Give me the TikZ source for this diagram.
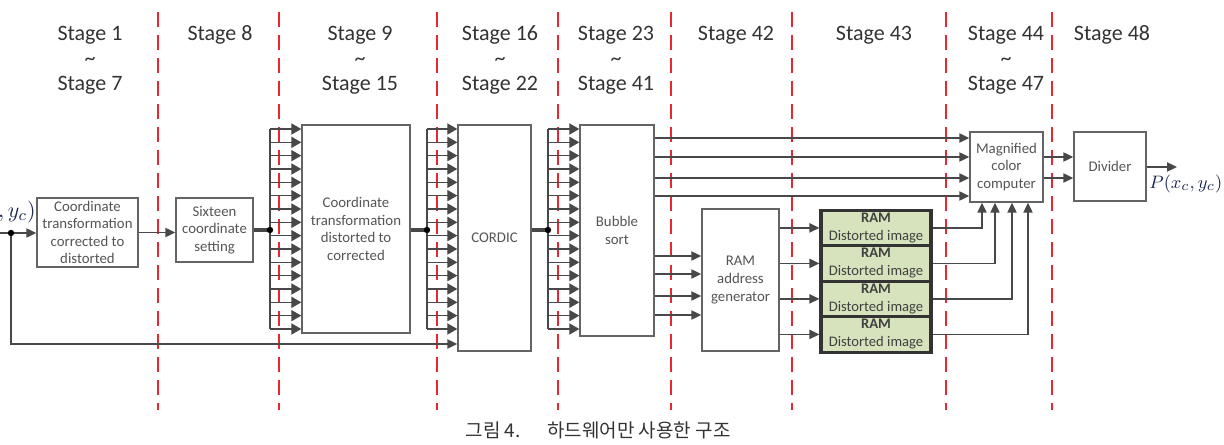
\documentclass[tikz,border=0pt]{standalone}
\usepackage{fontspec}
\setmainfont{Carlito}
\newfontfamily\krfont{Noto Sans CJK KR}
\usepackage{tikz}
\usetikzlibrary{arrows.meta,positioning,calc}
\definecolor{LineGray}{RGB}{72,72,72}
\definecolor{BoxGray}{RGB}{100,100,100}
\definecolor{TextGray}{RGB}{85,85,85}
\definecolor{StageRed}{RGB}{232,40,48}
\definecolor{RamGreen}{RGB}{214,227,188}
\definecolor{MathBlue}{RGB}{30,40,80}
\tikzset{
  blk/.style={draw=BoxGray, line width=0.7pt, fill=white, text=TextGray, align=center,
    inner sep=1.5pt, font=\fontsize{7.4}{8.8}\selectfont},
  ramblk/.style={draw=black!80, line width=1.6pt, fill=RamGreen, text=black!75, align=center,
    inner sep=0.5pt, minimum width=55pt, minimum height=17.75pt, font=\fontsize{7.3}{9}\selectfont},
  conn/.style={draw=LineGray, line width=0.75pt, -{Triangle[length=5pt,width=4.6pt]}},
  bus/.style={draw=LineGray, line width=0.6pt, -{Triangle[length=5pt,width=5.6pt]}},
  fanline/.style={draw=LineGray, line width=0.6pt},
  thickbus/.style={draw=LineGray, line width=2pt},
  stagebar/.style={draw=StageRed, line width=1pt, dash pattern=on 7.5pt off 4pt},
  stagelbl/.style={text=black!80, align=center, font=\fontsize{11}{12.5}\selectfont},
  dotmark/.style={fill=black, circle, inner sep=0pt, minimum size=3.2pt}
}
\begin{document}
\begin{tikzpicture}[x=0.5pt, y=-0.5pt]
  \useasboundingbox (0,0) rectangle (1224,444);

  % stage borders
  \foreach \xx in {158,279,437,558,671,792,946,1052}
    \draw[stagebar] (\xx,12) -- (\xx,410);

  % stage labels
  \node[stagelbl] (st1)  at (90,60)   {Stage 1\\\textasciitilde\\Stage 7};
  \node[stagelbl] (st8)  at (220,35)  {Stage 8};
  \node[stagelbl] (st9)  at (360,60)  {Stage 9\\\textasciitilde\\Stage 15};
  \node[stagelbl] (st16) at (500,60)  {Stage 16\\\textasciitilde\\Stage 22};
  \node[stagelbl] (st23) at (616,60)  {Stage 23\\\textasciitilde\\Stage 41};
  \node[stagelbl] (st42) at (736,35)  {Stage 42};
  \node[stagelbl] (st43) at (874,35)  {Stage 43};
  \node[stagelbl] (st44) at (1006,60) {Stage 44\\\textasciitilde\\Stage 47};
  \node[stagelbl] (st48) at (1112,35) {Stage 48};

  % blocks
  \node[blk, minimum width=50.5pt, minimum height=34.5pt] (box1) at (87.5,232.5)
    {Coordinate\\transformation\\corrected to\\distorted};
  \node[blk, minimum width=38.5pt, minimum height=32pt] (box2) at (214.5,230)
    {Sixteen\\coordinate\\setting};
  \node[blk, minimum width=54pt, minimum height=104pt] (box3) at (356,229)
    {Coordinate\\transformation\\distorted to\\corrected};
  \node[blk, minimum width=36.5pt, minimum height=113pt] (cordic) at (494.5,238) {CORDIC};
  \node[blk, minimum width=37pt, minimum height=105.5pt] (bub) at (617,230.5) {Bubble\\sort};
  \node[blk, minimum width=38.5pt, minimum height=71pt] (addr) at (740.5,280)
    {RAM\\address\\generator};
  \node[ramblk] (ram1) at (876,227.9) {\textbf{RAM}\\Distorted image};
  \node[ramblk] (ram2) at (876,263.4) {\textbf{RAM}\\Distorted image};
  \node[ramblk] (ram3) at (876,298.9) {\textbf{RAM}\\Distorted image};
  \node[ramblk] (ram4) at (876,334.4) {\textbf{RAM}\\Distorted image};
  \node[blk, minimum width=36.5pt, minimum height=35pt] (mag) at (1006.5,167)
    {Magnified\\color\\computer};
  \node[blk, minimum width=36pt, minimum height=34.5pt] (div) at (1110,166.5) {Divider};

  % input and feedback
  \coordinate (src) at (-10,233);
  \coordinate (in) at (11,233);
  \node[text=MathBlue, anchor=east, inner sep=0pt, font=\fontsize{11}{12}\selectfont] (inlbl) at (36,212) {$(x_c, y_c)$};
  \draw[conn] (src) -- (box1.west |- src);
  \draw[conn] (in) |- (cordic.west |- 0,344);
  \node[dotmark] (indot) at (in) {};
  \draw[conn] (box1.east) -- (box2.west |- box1.east);

  % sixteen-line buses
  \coordinate (fa) at (270,230);
  \coordinate (fb) at (427,230);
  \coordinate (fc) at (548,230);
  \draw[thickbus] (box2.east |- fa) -- (fa);
  \draw[thickbus] (box3.east |- fb) -- (fb);
  \draw[thickbus] (cordic.east |- fc) -- (fc);
  \foreach \f/\b in {fa/box3, fb/cordic, fc/bub} {
    \draw[fanline] (\f |- 0,129) -- (\f |- 0,329);
    \foreach \k [evaluate=\k as \yy using 129+13.333*\k] in {0,...,15}
      \draw[bus] (\f |- 0,\yy) -- (\b.west |- 0,\yy);
    \node[dotmark] at (\f) {};
  }

  % sorted outputs
  \foreach \yy in {138,157,178,196}
    \draw[conn] (bub.east |- 0,\yy) -- (mag.west |- 0,\yy);
  \foreach \yy in {256,274,296,315}
    \draw[conn] (bub.east |- 0,\yy) -- (addr.west |- 0,\yy);
  \foreach \i in {1,...,4}
    \draw[conn] (addr.east |- ram\i) -- (ram\i.west);
  \foreach \i/\xx in {1/982,2/995,3/1012,4/1028}
    \draw[conn] (ram\i.east) -| (mag.south -| \xx,0);

  % divider and output
  \foreach \yy in {157,178}
    \draw[conn] (mag.east |- 0,\yy) -- (div.west |- 0,\yy);
  \coordinate (out) at (1177,167);
  \draw[conn] (div.east |- out) -- (out);
  \node[text=MathBlue, anchor=west, inner sep=0pt, font=\fontsize{9.5}{11}\selectfont] (outlbl) at (1149,184) {$P(x_c, y_c)$};

  % caption
  \node[text=black!80, font=\krfont\fontsize{9.5}{11}\selectfont] (cap) at (598,430)
    {그림 4.\hspace{1.4em}하드웨어만 사용한 구조};
\end{tikzpicture}
\end{document}
